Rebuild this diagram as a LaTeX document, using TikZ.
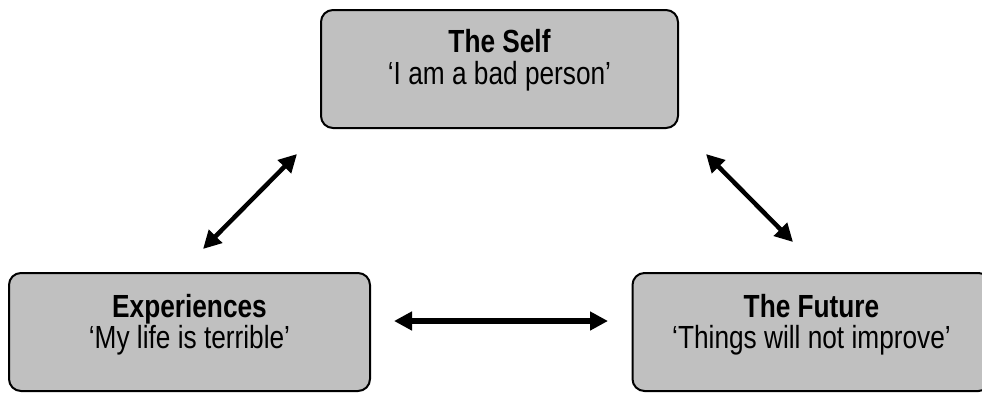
\documentclass[tikz,border=0pt]{standalone}
\usepackage{fontspec}
\setmainfont{Liberation Sans}[FakeStretch=0.82]
\usetikzlibrary{arrows.meta}
\definecolor{boxgray}{HTML}{C0C0C0}
\tikzset{
  box/.style={draw=black, line width=2pt, fill=boxgray, rounded corners=12pt,
    minimum width=357pt, minimum height=118pt, inner sep=0pt},
  label1/.style={anchor=base, font=\fontsize{32}{32}\selectfont\bfseries, inner sep=0pt},
  label2/.style={anchor=base, font=\fontsize{32}{32}\selectfont, inner sep=0pt},
  link/.style={line width=4.5pt, {Triangle[length=18pt,width=18pt]}-{Triangle[length=18pt,width=18pt]}}
}
\begin{document}
\begin{tikzpicture}[x=1pt,y=-1pt]
\useasboundingbox (0,0) rectangle (982,392);
\clip (0,0) rectangle (982,392);
% boxes
\node[box, minimum width=357pt] (self) at (499.5,69) {};
\node[box, minimum width=361pt] (exp) at (189.5,332) {};
\node[box, minimum width=358pt] (fut) at (811.5,332) {};
% texts
\node[label1] (selfT) at (499.5,52) {The Self};
\node[label2] (selfS) at (499.5,84) {‘I am a bad person’};
\node[label1] (expT) at (189.5,317) {Experiences};
\node[label2] (expS) at (189.5,348) {‘My life is terrible’};
\node[label1] (futT) at (811.5,317) {The Future};
\node[label2] (futS) at (811.5,348) {‘Things will not improve’};
% arrow ends
\coordinate (a1) at (297,154);
\coordinate (a2) at (203,249);
\coordinate (b1) at (706,154);
\coordinate (b2) at (793,242);
\coordinate (c1) at (394,321);
\coordinate (c2) at (608,321);
\draw[link] (a1) -- (a2);
\draw[link] (b1) -- (b2);
\draw[link, line width=5.5pt] (c1) -- (c2);
\end{tikzpicture}
\end{document}
